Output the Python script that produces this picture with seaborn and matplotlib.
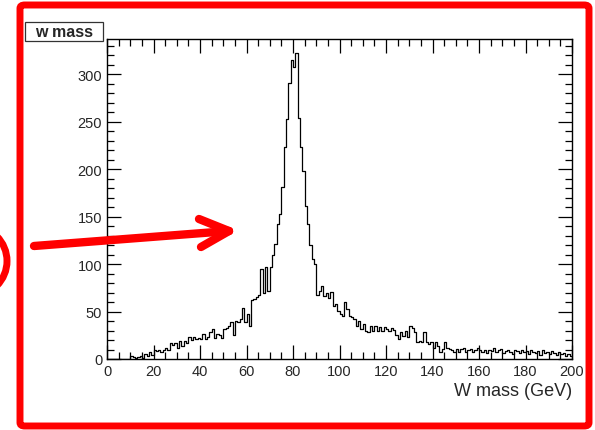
import numpy as np
import pandas as pd
import matplotlib.pyplot as plt
import matplotlib.patches as mpatches
from matplotlib.lines import Line2D
import seaborn as sb

# 1 GeV bins, 0-200
bin_lo, bin_hi = 0, 200

# counts per bin
counts = [
    0, 0, 0, 0, 0, 0, 0, 0, 0, 0,
    3, 2, 1, 2, 3, 1, 5, 3, 7, 4,
    10, 8, 10, 7, 10, 12, 9, 17, 15, 17,
    12, 19, 14, 19, 17, 23, 20, 23, 21, 22,
    21, 26, 21, 23, 28, 32, 22, 26, 25, 22,
    32, 33, 35, 39, 25, 40, 39, 42, 54, 39,
    47, 35, 62, 63, 65, 67, 95, 70, 97, 72,
    97, 110, 121, 142, 153, 181, 223, 253, 291, 315,
    307, 322, 254, 223, 198, 161, 142, 120, 105, 100,
    67, 72, 77, 66, 70, 64, 71, 56, 58, 51,
    47, 45, 60, 53, 45, 44, 42, 35, 40, 32,
    37, 30, 28, 35, 30, 35, 30, 34, 30, 34,
    32, 30, 33, 31, 25, 21, 28, 24, 30, 23,
    35, 33, 28, 18, 19, 18, 28, 18, 16, 18,
    12, 18, 14, 7, 11, 18, 12, 11, 9, 7,
    11, 7, 11, 12, 7, 9, 11, 7, 10, 12,
    9, 7, 9, 6, 10, 8, 12, 7, 9, 11,
    6, 8, 10, 7, 5, 9, 8, 6, 10, 7,
    8, 5, 9, 7, 6, 8, 4, 9, 6, 7,
    5, 8, 6, 4, 7, 5, 6, 3, 5, 3,
]

x_label = "W mass (GeV)"
title = "w mass"

df = pd.DataFrame({"mass": np.arange(bin_lo, bin_hi) + 0.5, "n": counts})

sb.set_style("ticks")
plt.rcParams["font.family"] = ["Liberation Sans", "DejaVu Sans"]

W, H = 595, 431
fig = plt.figure(figsize=(W / 100, H / 100), dpi=100)
fig.patch.set_facecolor("white")
ax = fig.add_axes([107 / W, 1 - 360 / H, 465 / W, 320 / H])

sb.histplot(data=df, x="mass", weights="n", binwidth=1, binrange=(bin_lo, bin_hi),
            element="step", fill=False, color="black", linewidth=0.9, ax=ax)

ax.set_xlim(0, 200)
ax.set_ylim(0, 337)
ax.set_ylabel("")
ax.set_xlabel(x_label, fontsize=13, loc="right", labelpad=3)
ax.set_xticks(np.arange(0, 201, 20))
ax.set_xticks(np.arange(0, 201, 5), minor=True)
ax.set_yticks(np.arange(0, 301, 50))
ax.set_yticks(np.arange(0, 331, 10), minor=True)
ax.tick_params(which="both", direction="in", top=True, right=True,
               labelsize=10.5, color="black", width=0.9)
ax.tick_params(which="major", length=10)
ax.tick_params(which="minor", length=5)
for s in ax.spines.values():
    s.set_linewidth(1.0)
    s.set_color("black")

# title box
fig.add_artist(mpatches.Rectangle((25 / W, 1 - 42 / H), 78 / W, 19 / H,
                                  transform=fig.transFigure, fc="white",
                                  ec="#333333", lw=0.9))
fig.text(64 / W, 1 - 32.5 / H, title, ha="center", va="center", fontsize=11.5,
         fontweight="bold")

# red annotations drawn on top
red = "#ff0000"
frame = mpatches.FancyBboxPatch((20 / W, 4 / H), 569 / W, 421 / H,
                                boxstyle="round,pad=0,rounding_size=0.008",
                                transform=fig.transFigure, fill=False,
                                ec=red, lw=5, zorder=10)
fig.add_artist(frame)

circ = mpatches.Ellipse((-28 / W, 1 - 262 / H), 70 / W, 70 / H,
                        transform=fig.transFigure, fill=False, ec=red, lw=5,
                        zorder=10)
fig.add_artist(circ)

tip = (229, 232)
for (x0, y0) in [(34, 247), (199, 220), (201, 248)]:
    fig.add_artist(Line2D([x0 / W, tip[0] / W], [1 - y0 / H, 1 - tip[1] / H],
                          transform=fig.transFigure, color=red, lw=6,
                          solid_capstyle="round", zorder=11))

fig.savefig("out.png", dpi=100)
